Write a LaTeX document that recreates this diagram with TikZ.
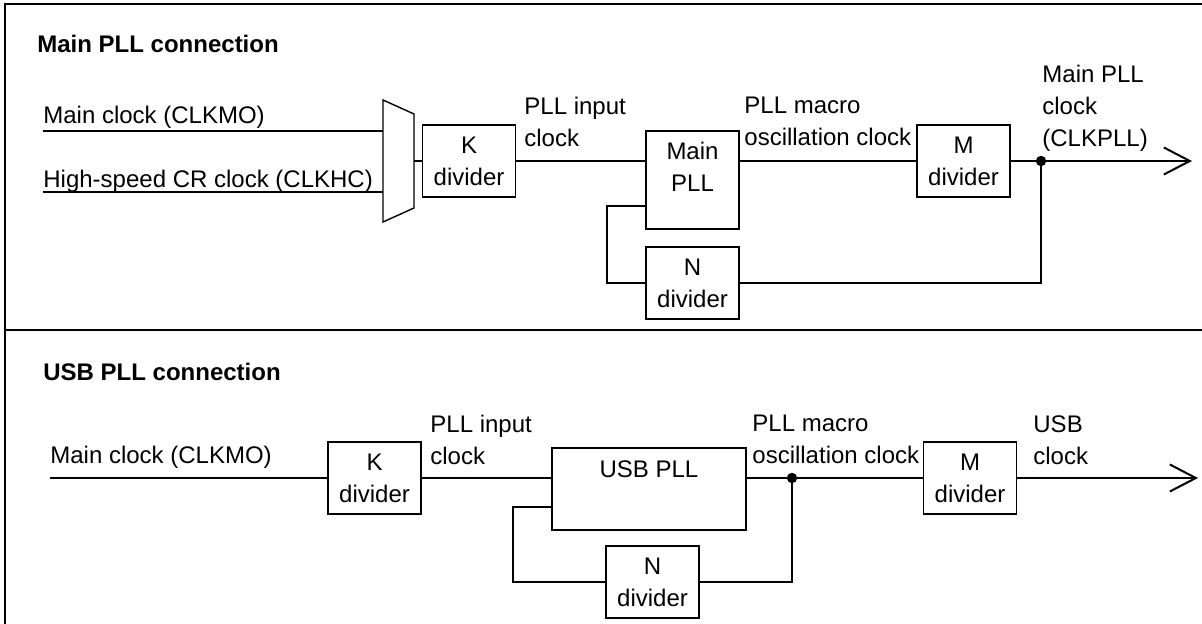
\documentclass[tikz,border=0pt]{standalone}
\usepackage{fontspec}
\setmainfont{Liberation Sans}
\usetikzlibrary{positioning,arrows.meta,calc}
\tikzset{
divnode/.style={rectangle, draw=black, line width=0.7pt, minimum width=46.5pt, minimum height=36pt, inner sep=0pt, align=center},
pllnode/.style={rectangle, draw=black, line width=0.7pt, inner sep=0pt},
lbl/.style={anchor=north west, inner sep=0pt, align=left},
titlelbl/.style={lbl, font=\fontsize{12}{16}\selectfont\bfseries},
wire/.style={line width=1pt},
outarrow/.style={-{Straight Barb[length=13pt,width=13.5pt]}},
frameline/.style={line width=1.3pt},
every node/.style={font=\fontsize{12}{16}\selectfont}
}
\begin{document}
\begin{tikzpicture}[x=0.5pt, y=-0.5pt]
\useasboundingbox (0,0) rectangle (1202,624);

% frame
\draw[frameline] (5,624) -- (5,4) -- (1202,4);
\draw[frameline] (5,330) -- (1202,330);

%Main PLL connection
\node[titlelbl] (title1) at (37,35) {Main PLL connection};
\node[lbl] (clkmo1) at (43,106) {Main clock (CLKMO)};
\node[lbl] (clkhc) at (43,170) {High-speed CR clock (CLKHC)};
\coordinate (in1) at (43,131);
\coordinate (in2) at (43,192);

% selector
\draw[line width=0.7pt] (383,100) -- (414,114) -- (414,208) -- (383,222) -- cycle;
\coordinate (mux1) at (383,131);
\coordinate (mux2) at (383,192);
\coordinate (muxout) at (414,161);

\node[divnode] (kdiv1) at (469,161) {K\\divider};
\node[pllnode, minimum width=46.5pt, minimum height=49pt] (mpll) at (692.5,180) {};
\node[anchor=north, inner sep=0pt, align=center] (mplltext) at ([yshift=-5.5pt]mpll.north) {Main\\PLL};
\node[divnode] (ndiv1) at (692.5,283) {N\\divider};
\node[divnode] (mdiv1) at (963.5,161) {M\\divider};
\coordinate (jct1) at (1041,161);
\coordinate (out1) at (1192,161);

\node[lbl] (pllin1) at (524,97) {PLL input\\clock};
\node[lbl] (macro1) at (744,97) {PLL macro\\oscillation clock};
\node[lbl] (clkpll) at (1042,65) {Main PLL\\clock\\(CLKPLL)};

\draw[wire] (in1) -- (mux1);
\draw[wire] (in2) -- (mux2);
\draw[wire] (muxout) -- (kdiv1.west);
\draw[wire] (kdiv1.east) -- (kdiv1.east -| mpll.west);
\draw[wire] (mpll.east |- mdiv1.west) -- (mdiv1.west);
\draw[wire] ([yshift=12pt]mpll.south west) -- ++(-38,0) |- (ndiv1.west);
\draw[wire] (ndiv1.east) -| (jct1);
\draw[wire, outarrow] (mdiv1.east) -- (out1);
\fill (jct1) circle[radius=2.6pt];

%USB PLL connection
\node[titlelbl] (title2) at (43,363) {USB PLL connection};
\node[lbl] (clkmo2) at (50,446) {Main clock (CLKMO)};
\coordinate (in3) at (50,478);

\node[divnode] (kdiv2) at (374.5,478) {K\\divider};
\node[pllnode, minimum width=97pt, minimum height=41pt] (upll) at (649,489) {};
\node[anchor=north, inner sep=0pt] (uplltext) at ([yshift=-6.5pt]upll.north) {USB PLL};
\node[divnode] (ndiv2) at (652.5,582) {N\\divider};
\node[divnode] (mdiv2) at (970,478) {M\\divider};
\coordinate (jct2) at (792,478);
\coordinate (out2) at (1198,478);

\node[lbl] (pllin2) at (430,415) {PLL input\\clock};
\node[lbl] (macro2) at (752,415) {PLL macro\\oscillation clock};
\node[lbl] (usbclk) at (1033,415) {USB\\clock};

\draw[wire] (in3) -- (kdiv2.west);
\draw[wire] (kdiv2.east) -- (kdiv2.east -| upll.west);
\draw[wire] (upll.east |- mdiv2.west) -- (mdiv2.west);
\draw[wire] ([yshift=12pt]upll.south west) -- ++(-38,0) |- (ndiv2.west);
\draw[wire] (ndiv2.east) -| (jct2);
\draw[wire, outarrow] (mdiv2.east) -- (out2);
\fill (jct2) circle[radius=2.6pt];

\end{tikzpicture}
\end{document}
